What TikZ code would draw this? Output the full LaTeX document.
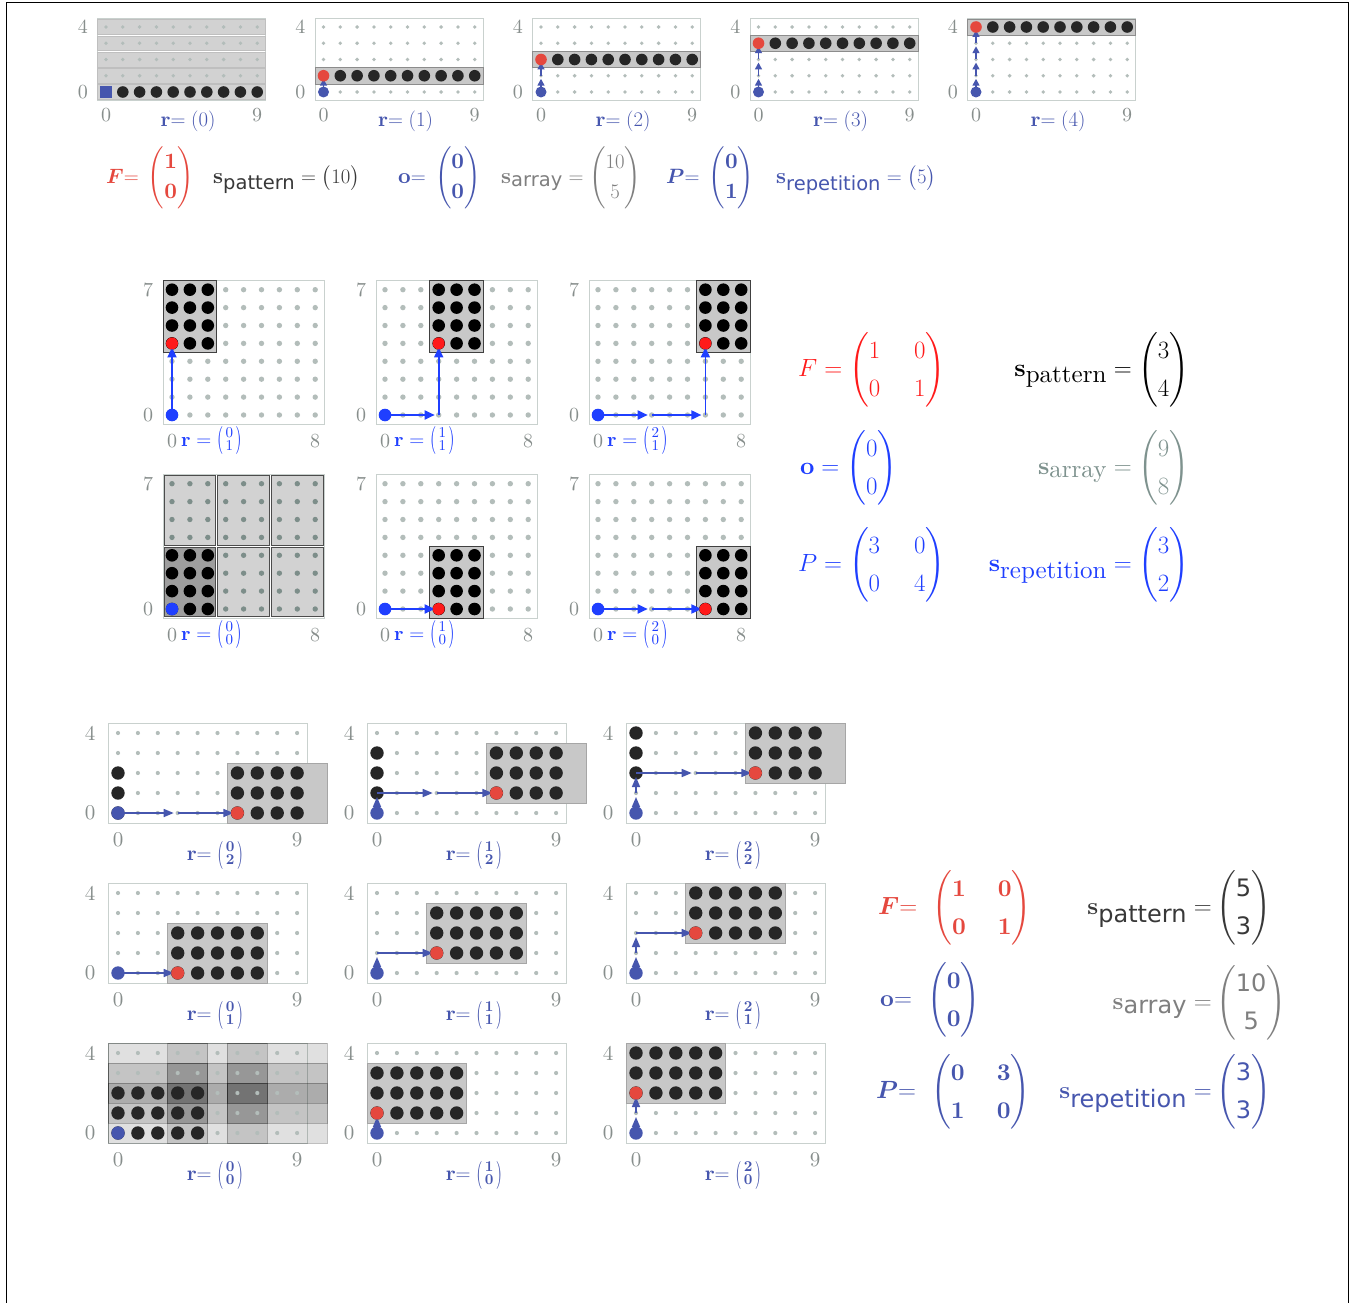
\documentclass[tikz,border=0pt]{standalone}
\usepackage{amsmath}
\usepackage{graphicx}
\usepackage{fontspec}
\setmainfont{lmroman10-regular.otf}[BoldFont=lmroman10-bold.otf, ItalicFont=lmroman10-italic.otf]
\newfontfamily\subsans{DejaVu Sans}
\usetikzlibrary{arrows.meta}

\definecolor{tred}{HTML}{E5483E}
\definecolor{tblue}{HTML}{4656AE}
\definecolor{mred}{HTML}{FF1A1A}
\definecolor{mblue}{HTML}{1F3FFF}
\definecolor{axgray}{HTML}{878E8C}
\definecolor{dotgray}{HTML}{B3BDBA}
\definecolor{dotdark}{HTML}{7D8E8A}
\definecolor{framegray}{HTML}{C9D1CE}
\definecolor{patfill}{HTML}{C8C8C8}
\definecolor{tilefill}{HTML}{D2D2D2}
\definecolor{sarrgray}{HTML}{7F7F7F}
\definecolor{msarr}{HTML}{7E928E}
\definecolor{darktext}{HTML}{383838}

\newcommand{\subT}[1]{_{\hbox{\subsans\fontsize{19.5}{19.5}\selectfont #1}}}
\newcommand{\subM}[1]{_{\hbox{\fontsize{25}{25}\selectfont #1}}}
\newcommand{\subB}[1]{_{\hbox{\subsans\fontsize{24}{24}\selectfont #1}}}
\newcommand{\sdig}[1]{\hbox{\subsans #1}}
\newcommand{\tallparen}[1]{\vcenter{\hbox{\scalebox{1}[1.75]{\fontsize{16}{16}\selectfont #1}}}}
\newcommand{\stk}[2]{\mathopen{\tallparen{(}}\mskip2mu\vcenter{\hbox{\fontsize{15}{12.5}\selectfont\begin{tabular}{@{}c@{}}#1\\#2\end{tabular}}}\mskip2mu\mathclose{\tallparen{)}}}

\tikzset{
  gframe/.style={draw=framegray, line width=0.8pt, fill=white},
  gdot/.style={fill=dotgray},
  tpatbox/.style={fill=patfill, draw=black!45, line width=0.6pt},
  mpatbox/.style={fill=patfill, draw=black!75, line width=0.8pt},
  bpatbox/.style={fill=patfill, draw=black!35, line width=0.6pt},
  tarr/.style={draw=tblue, line width=1.5pt, -{Triangle[length=7pt,width=7pt]}, shorten >=3pt},
  marr/.style={draw=mblue, line width=1.8pt, -{Triangle[length=10pt,width=9pt]}, shorten >=4pt},
  barr/.style={draw=tblue, line width=1.6pt, -{Triangle[length=10pt,width=8pt]}, shorten >=4pt},
  tlab/.style={text=axgray, font=\fontsize{20}{20}\selectfont, inner sep=0pt},
  mlab/.style={text=axgray, font=\fontsize{20}{20}\selectfont, inner sep=0pt},
  blab/.style={text=axgray, font=\fontsize{21}{21}\selectfont, inner sep=0pt},
  trlab/.style={text=tblue, font=\fontsize{21}{21}\selectfont, inner sep=0pt},
  mrlab/.style={text=mblue, font=\fontsize{20}{20}\selectfont, inner sep=0pt},
  brlab/.style={text=tblue, font=\fontsize{21}{21}\selectfont, inner sep=0pt},
  teq/.style={font=\fontsize{22}{30}\selectfont, inner sep=0pt},
  meq/.style={font=\fontsize{25}{38}\selectfont, inner sep=0pt},
  beq/.style={font=\fontsize{24}{38}\selectfont, inner sep=0pt},
}

% ---------- top panels: r = (#1)
\newcommand{\toppanel}[1]{%
\pgfmathsetmacro{\tpx}{106+217.5*#1}%
\begin{scope}[shift={(\tpx,92)}, x=16.8pt, y=16.25pt]
  \path[gframe] (-0.5,-0.5) rectangle (9.5,4.5);
  \ifnum#1=0
    \foreach \k in {0,...,4}{\filldraw[fill=tilefill, draw=black!25, line width=0.5pt] (-0.5,\k-0.46) rectangle (9.5,\k+0.46);}
  \else
    \filldraw[tpatbox] (-0.5,#1-0.5) rectangle (9.5,#1+0.5);
  \fi
  \foreach \gx in {0,...,9}{\foreach \gy in {0,...,4}{\fill[gdot] (\gx,\gy) circle (1.9pt);}}
  \foreach \gx in {1,...,9}{\fill[black!85] (\gx,#1) circle (5.8pt);}
  \ifnum#1=0
    \fill[tblue] (-0.34,-0.34) rectangle (0.34,0.34);
  \else
    \foreach \k in {1,...,#1}{\draw[tarr] (0,\k-1) -- (0,\k);}
    \fill[tred] (0,#1) circle (5.8pt);
    \fill[tblue] (0,0) circle (5.5pt);
  \fi
  \node[tlab] (tp#1a) at (-1.38,4) {4};
  \node[tlab] (tp#1b) at (-1.38,0) {0};
  \node[tlab] (tp#1c) at (0,-1.42) {0};
  \node[tlab] (tp#1d) at (9,-1.42) {9};
  \node[trlab] (tp#1r) at (4.88,-1.82) {$\mathbf{r}{=}\;(#1)$};
\end{scope}}

% ---------- middle panels: origin px #1,#2 ; r=(#3,#4)
\newcommand{\midpanel}[4]{%
\pgfmathtruncatemacro{\mpx}{3*#3}\pgfmathtruncatemacro{\mpy}{4*#4}%
\begin{scope}[shift={(#1,#2)}, x=17.9pt, y=17.9pt]
  \path[gframe] (-0.5,-0.5) rectangle (8.5,7.5);
  \ifnum\numexpr#3+#4\relax=0
    \foreach \i in {0,1,2}{\foreach \j in {0,1}{\filldraw[fill=tilefill, draw=black!70, line width=0.9pt] (3*\i-0.44,4*\j-0.44) rectangle (3*\i+2.44,4*\j+3.44);}}
    \filldraw[fill=black!38, draw=black!70, line width=0.9pt] (-0.44,-0.44) rectangle (2.44,3.44);
    \foreach \gx in {0,...,8}{\foreach \gy in {0,...,7}{\fill[dotdark] (\gx,\gy) circle (2.7pt);}}
  \else
    \filldraw[mpatbox] (\mpx-0.5,\mpy-0.5) rectangle (\mpx+2.5,\mpy+3.5);
    \foreach \gx in {0,...,8}{\foreach \gy in {0,...,7}{\fill[gdot] (\gx,\gy) circle (2.7pt);}}
  \fi
  \foreach \dx in {0,1,2}{\foreach \dy in {0,...,3}{\fill[black] (\mpx+\dx,\mpy+\dy) circle (6.3pt);}}
  \ifnum#3>0 \foreach \k in {1,...,#3}{\draw[marr] (3*\k-3,0) -- (3*\k,0);}\fi
  \ifnum#4>0 \foreach \k in {1,...,#4}{\draw[marr] (\mpx,4*\k-4) -- (\mpx,4*\k);}\fi
  \ifnum\numexpr#3+#4\relax>0 \fill[mred] (\mpx,\mpy) circle (6pt);\fi
  \fill[mblue] (0,0) circle (6.3pt);
  \node[mlab] (mp#3#4a) at (-1.34,7) {7};
  \node[mlab] (mp#3#4b) at (-1.34,0) {0};
  \node[mlab] (mp#3#4c) at (0,-1.45) {0};
  \node[mlab] (mp#3#4d) at (8,-1.45) {8};
  \node[mrlab, anchor=west] (mp#3#4r) at (0.5,-1.45) {$\mathbf{r}=\stk{#3}{#4}$};
\end{scope}}

% ---------- bottom panels: origin px #1,#2 ; r=(#3,#4)
\newcommand{\botpanel}[4]{%
\pgfmathtruncatemacro{\bpx}{3*#4}\pgfmathtruncatemacro{\bpy}{#3}%
\begin{scope}[shift={(#1,#2)}, x=19.9pt, y=20pt]
  \path[gframe] (-0.5,-0.5) rectangle (9.5,4.5);
  \ifnum\numexpr#3+#4\relax=0
    \foreach \i in {0,1,2}{\foreach \j in {0,1,2}{\filldraw[fill=black, fill opacity=0.12, draw=black, draw opacity=0.25, line width=0.6pt] (3*\j-0.5,\i-0.5) rectangle (3*\j+4.5,\i+2.5);}}
  \else
    \filldraw[bpatbox] (\bpx-0.5,\bpy-0.5) rectangle (\bpx+4.5,\bpy+2.5);
  \fi
  \foreach \gx in {0,...,9}{\foreach \gy in {0,...,4}{\fill[gdot] (\gx,\gy) circle (2.1pt);}}
  \foreach \dx in {0,...,4}{\foreach \dy in {0,1,2}{\pgfmathtruncatemacro{\cc}{mod(\bpx+\dx,10)}\fill[black!85] (\cc,\bpy+\dy) circle (6.7pt);}}
  \ifnum#3>0 \foreach \k in {1,...,#3}{\draw[barr] (0,\k-1) -- (0,\k);}\fi
  \ifnum#4>0 \foreach \k in {1,...,#4}{\draw[barr] (3*\k-3,\bpy) -- (3*\k,\bpy);}\fi
  \ifnum\numexpr#3+#4\relax>0 \fill[tred] (\bpx,\bpy) circle (6.5pt);\fi
  \fill[tblue] (0,0) circle (6.7pt);
  \node[blab] (bp#3#4a) at (-1.4,4) {4};
  \node[blab] (bp#3#4b) at (-1.4,0) {0};
  \node[blab] (bp#3#4c) at (0,-1.35) {0};
  \node[blab] (bp#3#4d) at (9,-1.35) {9};
  \node[brlab] (bp#3#4r) at (4.87,-2.1) {$\mathbf{r}{=}\;\stk{\bfseries #3}{\bfseries #4}$};
\end{scope}}

\begin{document}
\begin{tikzpicture}[x=1pt,y=-1pt]
\useasboundingbox (0,0) rectangle (1358,1303);
\fill[white] (0,0) rectangle (1358,1303);
\draw[line width=1pt] (6,1310) -- (6,3) -- (1348,3) -- (1348,1310);

% ================= top section
\toppanel{0}\toppanel{1}\toppanel{2}\toppanel{3}\toppanel{4}

\node[teq, text=tred, anchor=base west] (tF) at (106,183) {$\boldsymbol{F}{=}\;\begin{pmatrix}\mathbf{1}\\\mathbf{0}\end{pmatrix}$};
\node[teq, text=darktext, anchor=base west] (tsp) at (213,183) {$\mathbf{s}\subT{pattern}=\bigl(10\bigr)$};
\node[teq, text=tblue, anchor=base west] (to) at (398,183) {$\mathbf{o}{=}\;\begin{pmatrix}\mathbf{0}\\\mathbf{0}\end{pmatrix}$};
\node[teq, text=sarrgray, anchor=base west] (tsa) at (501,183) {$\mathbf{s}\subT{array}=\begin{pmatrix}10\\5\end{pmatrix}$};
\node[teq, text=tblue, anchor=base west] (tP) at (666,183) {$\boldsymbol{P}{=}\;\begin{pmatrix}\mathbf{0}\\\mathbf{1}\end{pmatrix}$};
\node[teq, text=tblue, anchor=base west] (tsr) at (776,183) {$\mathbf{s}\subT{repetition}=\bigl(5\bigr)$};

% ================= middle section
\midpanel{172}{415}{0}{1}
\midpanel{385}{415}{1}{1}
\midpanel{598}{415}{2}{1}
\midpanel{172}{609}{0}{0}
\midpanel{385}{609}{1}{0}
\midpanel{598}{609}{2}{0}

\node[meq, text=mred, anchor=west] (mF) at (798,370) {\arraycolsep=17pt $F=\begin{pmatrix}1&0\\0&1\end{pmatrix}$};
\node[meq, text=black, anchor=base east] (msp) at (1132,376) {$\mathbf{s}\subM{pattern}=$};
\node[meq, text=black, anchor=west] (mspv) at (1138,370) {$\begin{pmatrix}3\\4\end{pmatrix}$};
\node[meq, text=mblue, anchor=west] (mo) at (800,468) {$\mathbf{o}=\begin{pmatrix}0\\0\end{pmatrix}$};
\node[meq, text=msarr, anchor=base east] (msa) at (1132,474) {$\mathbf{s}\subM{array}=$};
\node[meq, text=msarr, anchor=west] (msav) at (1138,468) {$\begin{pmatrix}9\\8\end{pmatrix}$};
\node[meq, text=mblue, anchor=west] (mP) at (798,565) {\arraycolsep=17pt $P=\begin{pmatrix}3&0\\0&4\end{pmatrix}$};
\node[meq, text=mblue, anchor=base east] (msr) at (1132,571) {$\mathbf{s}\subM{repetition}=$};
\node[meq, text=mblue, anchor=west] (msrv) at (1138,565) {$\begin{pmatrix}3\\2\end{pmatrix}$};

% ================= bottom section
\botpanel{118}{813}{0}{2}
\botpanel{377}{813}{1}{2}
\botpanel{636}{813}{2}{2}
\botpanel{118}{973}{0}{1}
\botpanel{377}{973}{1}{1}
\botpanel{636}{973}{2}{1}
\botpanel{118}{1133}{0}{0}
\botpanel{377}{1133}{1}{0}
\botpanel{636}{1133}{2}{0}

\node[beq, text=tred, anchor=west] (bF) at (878,908) {\arraycolsep=16pt $\boldsymbol{F}{=}\;\,\begin{pmatrix}\mathbf{1}&\mathbf{0}\\\mathbf{0}&\mathbf{1}\end{pmatrix}$};
\node[beq, text=darktext, anchor=base east] (bsp) at (1212,914) {$\mathbf{s}\subB{pattern}=$};
\node[beq, text=darktext, anchor=west] (bspv) at (1216,908) {$\begin{pmatrix}\sdig{5}\\\sdig{3}\end{pmatrix}$};
\node[beq, text=tblue, anchor=west] (bo) at (880,1000) {$\mathbf{o}{=}\;\,\begin{pmatrix}\mathbf{0}\\\mathbf{0}\end{pmatrix}$};
\node[beq, text=sarrgray, anchor=base east] (bsa) at (1212,1009) {$\mathbf{s}\subB{array}=$};
\node[beq, text=sarrgray, anchor=west] (bsav) at (1216,1003) {$\begin{pmatrix}\sdig{10}\\\sdig{5}\end{pmatrix}$};
\node[beq, text=tblue, anchor=west] (bP) at (876,1092) {\arraycolsep=16pt $\boldsymbol{P}{=}\;\,\begin{pmatrix}\mathbf{0}&\mathbf{3}\\\mathbf{1}&\mathbf{0}\end{pmatrix}$};
\node[beq, text=tblue, anchor=base east] (bsr) at (1212,1098) {$\mathbf{s}\subB{repetition}=$};
\node[beq, text=tblue, anchor=west] (bsrv) at (1216,1092) {$\begin{pmatrix}\sdig{3}\\\sdig{3}\end{pmatrix}$};
\end{tikzpicture}
\end{document}
